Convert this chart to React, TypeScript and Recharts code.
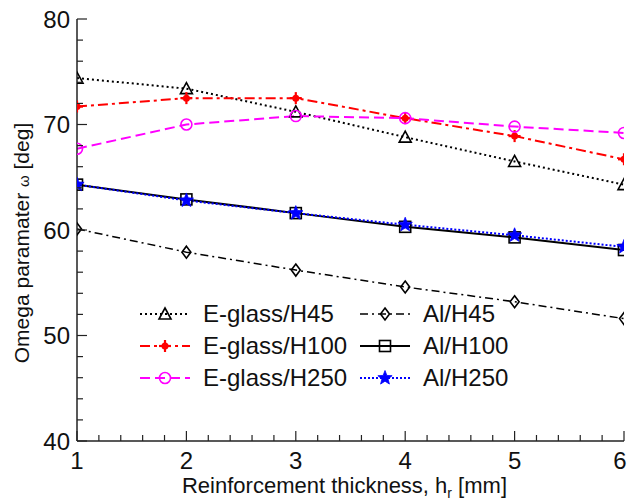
import React from "react";
import { LineChart, Line, XAxis, YAxis, Legend } from "recharts";

document.body.style.margin = "0";

// reinforcement thickness h_r [mm]
const thickness = [1, 2, 3, 4, 5, 6];
// omega parameter [deg]
const eglassH45 = [74.4, 73.4, 71.2, 68.8, 66.5, 64.3];
const eglassH100 = [71.7, 72.5, 72.5, 70.6, 68.9, 66.7];
const eglassH250 = [67.7, 70.0, 70.8, 70.6, 69.8, 69.2];
const alH45 = [60.1, 57.9, 56.2, 54.6, 53.2, 51.6];
const alH100 = [64.3, 62.9, 61.6, 60.3, 59.3, 58.1];
const alH250 = [64.3, 62.8, 61.6, 60.5, 59.5, 58.4];

const xMajor = [1, 2, 3, 4, 5, 6];
const yMajor = [40, 50, 60, 70, 80];
const xMinorStep = 0.2;
const yMinorStep = 2;

const FONT = '"Liberation Sans", Arial, sans-serif';
const AXIS = "#222";

const xTicks: number[] = [];
for (let v = xMajor[0]; v <= xMajor[xMajor.length - 1] + 1e-9; v += xMinorStep) xTicks.push(Math.round(v * 10) / 10);
const yTicks: number[] = [];
for (let v = yMajor[0]; v <= yMajor[yMajor.length - 1]; v += yMinorStep) yTicks.push(v);

const data = thickness.map((x, i) => ({
  x,
  eH45: eglassH45[i],
  eH100: eglassH100[i],
  eH250: eglassH250[i],
  aH45: alH45[i],
  aH100: alH100[i],
  aH250: alH250[i],
}));

type Shape = "triangle" | "plus" | "circle" | "diamond" | "square" | "star";

const seriesList: { key: string; name: string; color: string; dash?: string; width: number; shape: Shape }[] = [
  { key: "eH45", name: "E-glass/H45", color: "#000000", dash: "2 3", width: 2, shape: "triangle" },
  { key: "eH100", name: "E-glass/H100", color: "#ff0000", dash: "10 4 3 4", width: 2, shape: "plus" },
  { key: "eH250", name: "E-glass/H250", color: "#ff00ff", dash: "10 5", width: 2, shape: "circle" },
  { key: "aH45", name: "Al/H45", color: "#000000", dash: "8 4 2 4", width: 1.5, shape: "diamond" },
  { key: "aH100", name: "Al/H100", color: "#000000", width: 2, shape: "square" },
  { key: "aH250", name: "Al/H250", color: "#0000ff", dash: "2 2", width: 2, shape: "star" },
];

function starPath(cx: number, cy: number, ro: number, ri: number) {
  const pts: string[] = [];
  for (let k = 0; k < 10; k++) {
    const r = k % 2 === 0 ? ro : ri;
    const a = -Math.PI / 2 + (k * Math.PI) / 5;
    pts.push(`${cx + r * Math.cos(a)},${cy + r * Math.sin(a)}`);
  }
  return "M" + pts.join("L") + "Z";
}

function Marker({ cx, cy, shape, color }: { cx: number; cy: number; shape: Shape; color: string }) {
  if (cx == null || cy == null) return null;
  const sw = 1.6;
  switch (shape) {
    case "triangle":
      return <path d={`M${cx},${cy - 6}L${cx + 6},${cy + 5}L${cx - 6},${cy + 5}Z`} fill="none" stroke={color} strokeWidth={sw} />;
    case "plus":
      return (
        <g>
          <line x1={cx - 6} y1={cy} x2={cx + 6} y2={cy} stroke={color} strokeWidth={2.2} />
          <line x1={cx} y1={cy - 6} x2={cx} y2={cy + 6} stroke={color} strokeWidth={2.2} />
          <circle cx={cx} cy={cy} r={3.5} fill={color} />
        </g>
      );
    case "circle":
      return <circle cx={cx} cy={cy} r={5.5} fill="none" stroke={color} strokeWidth={sw} />;
    case "diamond":
      return <path d={`M${cx},${cy - 6}L${cx + 4.5},${cy}L${cx},${cy + 6}L${cx - 4.5},${cy}Z`} fill="none" stroke={color} strokeWidth={sw} />;
    case "square":
      return <rect x={cx - 5.5} y={cy - 5.5} width={11} height={11} fill="none" stroke={color} strokeWidth={sw} />;
    case "star":
      return <path d={starPath(cx, cy, 7.5, 3.2)} fill={color} stroke={color} strokeWidth={0.8} />;
  }
  return null;
}

// eslint-disable-next-line @typescript-eslint/no-explicit-any
function BottomTick({ x, y, payload }: any) {
  const v = payload.value;
  const major = xMajor.includes(v);
  // keep the last label inside the 629px frame
  const tx = Math.min(x, 629 - 9);
  return (
    <g>
      <line x1={x} y1={y} x2={x} y2={y - (major ? 10 : 6)} stroke={AXIS} strokeWidth={1.2} />
      {major && (
        <text x={tx} y={y + 28} textAnchor="middle" fontSize={24} fontFamily={FONT} fill="#111">
          {v}
        </text>
      )}
    </g>
  );
}

// eslint-disable-next-line @typescript-eslint/no-explicit-any
function TopTick({ x, y, payload }: any) {
  const major = xMajor.includes(payload.value);
  return <line x1={x} y1={y} x2={x} y2={y + (major ? 10 : 6)} stroke={AXIS} strokeWidth={1.2} />;
}

// eslint-disable-next-line @typescript-eslint/no-explicit-any
function LeftTick({ x, y, payload }: any) {
  const v = payload.value;
  const major = yMajor.includes(v);
  return (
    <g>
      <line x1={x} y1={y} x2={x + (major ? 10 : 6)} y2={y} stroke={AXIS} strokeWidth={1.2} />
      {major && (
        <text x={x - 7} y={y + 8.5} textAnchor="end" fontSize={24} fontFamily={FONT} fill="#111">
          {v}
        </text>
      )}
    </g>
  );
}

// eslint-disable-next-line @typescript-eslint/no-explicit-any
function RightTick({ x, y, payload }: any) {
  const major = yMajor.includes(payload.value);
  return <line x1={x} y1={y} x2={x - (major ? 10 : 6)} y2={y} stroke={AXIS} strokeWidth={1.2} />;
}

// eslint-disable-next-line @typescript-eslint/no-explicit-any
function XLabel({ viewBox }: any) {
  if (!viewBox) return null;
  const cx = viewBox.x + viewBox.width / 2 - 6;
  return (
    <text x={cx} y={viewBox.y + 52} textAnchor="middle" fontSize={22} fontFamily={FONT} fill="#111">
      Reinforcement thickness, h
      <tspan dy={5} fontSize={14}>r</tspan>
      <tspan dy={-5}> [mm]</tspan>
    </text>
  );
}

// eslint-disable-next-line @typescript-eslint/no-explicit-any
function YLabel({ viewBox }: any) {
  if (!viewBox) return null;
  const cx = 22;
  const cy = viewBox.y + viewBox.height / 2 + 13;
  return (
    <text
      x={cx}
      y={cy}
      dy="0.35em"
      transform={`rotate(-90, ${cx}, ${cy})`}
      textAnchor="middle"
      fontSize={21}
      fontFamily={FONT}
      fill="#111"
    >
      Omega paramater <tspan fontSize={15}>ω</tspan> [deg]
    </text>
  );
}

function LegendRow({ s }: { s: (typeof seriesList)[number] }) {
  return (
    <div style={{ display: "flex", alignItems: "center", height: 32 }}>
      <svg width={50} height={32}>
        <line x1={0} y1={16} x2={50} y2={16} stroke={s.color} strokeWidth={s.width} strokeDasharray={s.dash} />
        <Marker cx={25} cy={16} shape={s.shape} color={s.color} />
      </svg>
      <span style={{ marginLeft: 13, fontSize: 24, fontFamily: FONT, color: "#111", lineHeight: "32px" }}>{s.name}</span>
    </div>
  );
}

function LegendBox() {
  return (
    <div style={{ display: "flex" }}>
      <div style={{ width: 220 }}>
        {seriesList.slice(0, 3).map((s) => (
          <LegendRow key={s.key} s={s} />
        ))}
      </div>
      <div>
        {seriesList.slice(3).map((s) => (
          <LegendRow key={s.key} s={s} />
        ))}
      </div>
    </div>
  );
}

export default function App() {
  return (
    <div style={{ width: 629, height: 502, background: "#fff", position: "relative" }}>
      <LineChart width={629} height={502} data={data} margin={{ top: 19, right: 5, bottom: 0, left: 0 }}>
        <XAxis
          dataKey="x"
          type="number"
          domain={[1, 6]}
          ticks={xTicks}
          interval={0}
          allowDataOverflow
          height={61}
          tickSize={0}
          tickMargin={0}
          tickLine={false}
          axisLine={{ stroke: AXIS, strokeWidth: 1.5 }}
          tick={<BottomTick />}
          label={<XLabel />}
        />
        <XAxis
          xAxisId="top"
          orientation="top"
          dataKey="x"
          type="number"
          domain={[1, 6]}
          ticks={xTicks}
          interval={0}
          allowDataOverflow
          height={0}
          tickSize={0}
          tickMargin={0}
          tickLine={false}
          axisLine={{ stroke: AXIS, strokeWidth: 1.5 }}
          tick={<TopTick />}
        />
        <YAxis
          type="number"
          domain={[40, 80]}
          ticks={yTicks}
          interval={0}
          allowDataOverflow
          width={77}
          tickSize={0}
          tickMargin={0}
          tickLine={false}
          axisLine={{ stroke: AXIS, strokeWidth: 1.5 }}
          tick={<LeftTick />}
          label={<YLabel />}
        />
        <YAxis
          yAxisId="right"
          orientation="right"
          type="number"
          domain={[40, 80]}
          ticks={yTicks}
          interval={0}
          allowDataOverflow
          width={0}
          tickSize={0}
          tickMargin={0}
          tickLine={false}
          axisLine={{ stroke: AXIS, strokeWidth: 1.5 }}
          tick={<RightTick />}
        />
        <Legend
          layout="horizontal"
          verticalAlign="middle"
          align="center"
          wrapperStyle={{ left: 140, top: 298, width: 420 }}
          content={<LegendBox />}
        />
        {seriesList.map((s) => (
          <Line
            key={s.key}
            dataKey={s.key}
            name={s.name}
            type="linear"
            stroke={s.color}
            strokeWidth={s.width}
            strokeDasharray={s.dash}
            isAnimationActive={false}
            // eslint-disable-next-line @typescript-eslint/no-explicit-any
            dot={(p: any) => <Marker key={`${s.key}-${p.index}`} cx={p.cx} cy={p.cy} shape={s.shape} color={s.color} />}
            activeDot={false}
          />
        ))}
      </LineChart>
    </div>
  );
}
